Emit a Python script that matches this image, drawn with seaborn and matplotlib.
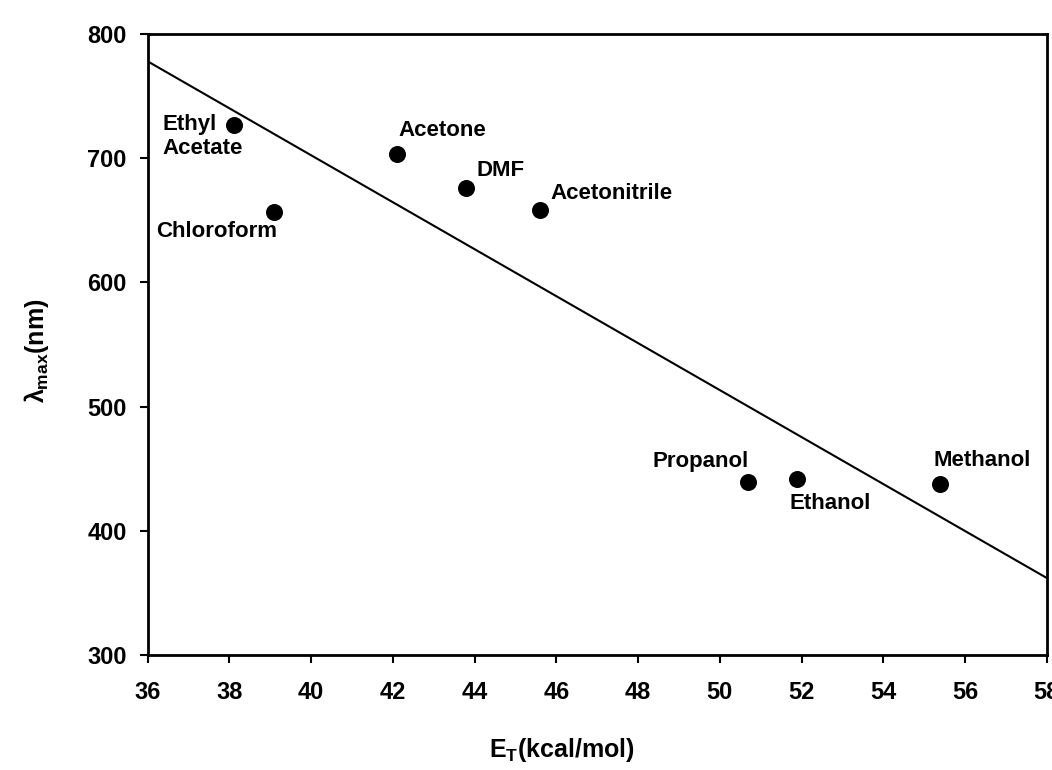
import pandas as pd
import matplotlib
matplotlib.use("Agg")
import matplotlib.pyplot as plt
import seaborn as sns

# Datos
solvents = ['Ethyl\nAcetate', 'Chloroform', 'Acetone', 'DMF', 'Acetonitrile',
            'Propanol', 'Ethanol', 'Methanol']
et_values = [38.1, 39.1, 42.1, 43.8, 45.6, 50.7, 51.9, 55.4]
lambda_max = [727, 657, 703, 676, 658, 439, 442, 438]

# Recta de ajuste (extremos leídos)
fit_x = [36, 58]
fit_y = [778, 362]

# Desplazamiento de las etiquetas en píxeles (dx, dy)
label_offsets = [(-71, -12), (-58, -20), (45, 24), (34, 18), (71, 17),
                 (-48, 21), (33, -25), (42, 23)]

sns.set_style("white")
plt.rcParams['font.family'] = ['Liberation Sans', 'DejaVu Sans']
plt.rcParams['text.color'] = 'black'
plt.rcParams['axes.labelcolor'] = 'black'
plt.rcParams['xtick.color'] = 'black'
plt.rcParams['ytick.color'] = 'black'
plt.rcParams['mathtext.fontset'] = 'custom'
plt.rcParams['mathtext.rm'] = 'Liberation Sans:bold'
plt.rcParams['mathtext.it'] = 'Liberation Sans:bold'
plt.rcParams['mathtext.bf'] = 'Liberation Sans:bold'

df = pd.DataFrame({'solvent': solvents, 'et': et_values, 'lmax': lambda_max})
df_fit = pd.DataFrame({'x': fit_x, 'y': fit_y})

fig = plt.figure(figsize=(10.52, 7.7), dpi=100)
ax = fig.add_axes([0.1404, 0.1494, 0.8546, 0.8064])

sns.lineplot(data=df_fit, x='x', y='y', ax=ax, color='black', linewidth=1.5)
sns.scatterplot(data=df, x='et', y='lmax', ax=ax, color='black', s=150,
                edgecolor='black', linewidth=0, zorder=3)

for (name, x, y), (dx, dy) in zip(zip(solvents, et_values, lambda_max), label_offsets):
    ha = 'left' if '\n' in name else 'center'
    ax.annotate(name, (x, y), xytext=(dx, dy), textcoords='offset pixels',
                ha=ha, va='center', fontsize=16, fontweight='bold',
                color='black', multialignment='left', linespacing=1.15)

ax.set_xlim(36, 58)
ax.set_ylim(300, 800)
ax.set_xticks(range(36, 59, 2))
ax.set_yticks(range(300, 801, 100))

for sp in ax.spines.values():
    sp.set_linewidth(2)
    sp.set_color('black')

ax.tick_params(axis='x', direction='out', length=6, width=1.5, pad=13,
               labelsize=17, bottom=True)
ax.tick_params(axis='y', direction='out', length=6, width=1.5, pad=9,
               labelsize=17, left=True)
for lab in ax.get_xticklabels() + ax.get_yticklabels():
    lab.set_fontweight('bold')

ax.set_xlabel(r'E$_\mathrm{T}$(kcal/mol)', fontsize=18, fontweight='bold')
ax.set_ylabel(r'$\lambda_{max}$(nm)', fontsize=18, fontweight='bold')
ax.xaxis.set_label_coords(0.461, -0.130)
ax.yaxis.set_label_coords(-0.108, 0.49)

plt.savefig('out.png', dpi=100)
